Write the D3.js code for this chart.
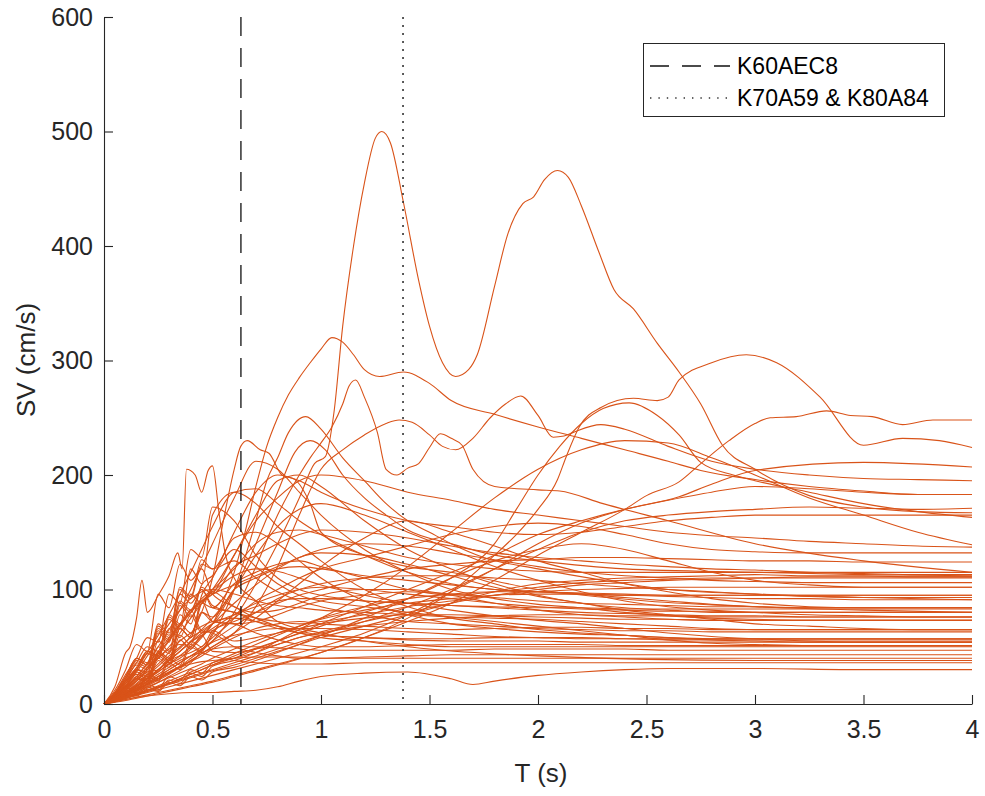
<!DOCTYPE html>
<html><head><meta charset="utf-8">
<script src="https://cdn.jsdelivr.net/npm/d3@7"></script>
<style>
html,body{margin:0;padding:0;background:#fff;}
svg{display:block;font-family:"Liberation Sans",Arial,Helvetica,sans-serif;}
</style></head>
<body>
<svg id="chart" width="985" height="796"></svg>
<script>
// ---------------- data ----------------
const xTicks = [0, 0.5, 1, 1.5, 2, 2.5, 3, 3.5, 4];
const yTicks = [0, 100, 200, 300, 400, 500, 600];
const xLabel = "T (s)";
const yLabel = "SV (cm/s)";
const markerNames = ["K60AEC8", "K70A59 & K80A84"];
const markerPeriods = [0.631, 1.378];

// shared period grid for the bundle of spectra
const periods = [0,0.05,0.1,0.15,0.2,0.25,0.3,0.35,0.4,0.45,0.5,0.6,0.7,0.8,0.9,1.0,1.2,1.4,1.6,1.8,2.0,2.2,2.4,2.6,2.8,3.0,3.25,3.5,3.75,4.0];
const gridSpectra = [
 [0,5,11,9,17,14,24,21,30,27,36,40,48,55,62,70,85,100,115,130,148,160,170,178,185,190,188,185,183,183],
 [0,4,8,7,13,11,19,16,24,21,28,32,38,45,52,60,72,85,100,118,135,150,160,165,168,170,172,171,170,171],
 [0,8,16,28,24,45,38,66,58,95,110,150,185,200,195,185,170,160,155,150,148,150,155,160,163,165,165,165,165,165],
 [0,4,9,8,15,12,21,18,27,24,33,38,45,55,65,75,95,120,150,180,205,222,230,228,215,200,180,165,150,139],
 [0,7,15,26,22,44,38,66,58,88,96,130,160,180,195,200,195,185,178,170,165,160,155,150,147,145,142,140,138,137],
 [0,6,12,10,24,20,36,30,52,46,62,75,90,100,110,118,128,138,148,155,158,155,148,140,135,133,132,132,132,132],
 [0,6,14,12,26,22,40,34,55,50,64,72,80,88,95,100,110,118,122,125,126,128,128,127,126,125,125,124,124,124],
 [0,8,20,30,28,50,44,78,70,102,96,120,130,140,148,152,150,145,138,132,128,125,122,120,118,117,115,114,113,113],
 [0,3,6,9,12,15,18,22,26,30,34,40,45,52,58,63,72,80,88,95,100,104,106,108,109,110,111,111,111,111],
 [0,6,14,22,20,42,36,66,58,88,84,105,115,122,125,120,110,100,95,98,102,106,108,109,110,110,110,110,110,110],
 [0,10,24,40,34,66,58,96,88,100,86,80,75,72,70,72,78,85,90,95,98,100,101,102,102,102,102,102,102,102],
 [0,7,15,24,20,40,34,60,52,80,76,100,110,118,120,118,112,108,104,100,98,97,96,95,95,95,95,95,95,95],
 [0,3,7,11,15,19,23,27,31,35,40,48,55,62,68,74,82,88,92,95,96,96,95,94,93,92,92,91,91,91],
 [0,8,18,30,26,55,46,86,76,90,72,70,72,78,85,90,95,98,96,93,90,88,87,86,85,85,84,84,84,84],
 [0,4,9,15,22,30,38,46,54,60,66,78,88,95,100,102,100,96,92,88,85,83,82,81,81,80,80,80,80,80],
 [0,7,14,22,18,38,32,56,48,60,46,45,48,52,58,62,68,72,75,77,78,78,77,77,76,76,76,76,76,76],
 [0,9,20,30,44,40,66,58,78,62,64,55,58,62,66,70,75,78,78,77,76,75,74,74,73,73,73,73,73,73],
 [0,3,7,12,17,22,27,32,37,42,48,58,66,70,72,70,68,66,65,66,67,67,66,66,65,65,65,65,65,65],
 [0,8,20,34,30,62,54,90,82,100,84,80,72,66,62,60,58,57,57,58,58,58,57,57,57,57,57,57,57,57],
 [0,4,10,18,26,35,45,55,62,68,72,75,72,68,64,60,58,56,55,55,55,54,54,54,54,54,54,54,54,54],
 [0,7,16,26,22,46,40,70,62,80,72,70,62,56,52,50,50,51,52,52,52,52,51,51,51,51,51,51,51,51],
 [0,3,8,14,20,26,32,38,42,45,48,50,50,49,48,47,47,47,47,48,48,48,48,47,47,47,47,47,47,47],
 [0,9,22,36,50,46,78,70,82,64,62,50,45,42,40,40,41,42,43,43,43,43,43,43,43,43,43,43,43,43],
 [0,4,9,14,19,24,28,32,35,37,38,40,41,41,41,40,40,40,40,40,40,40,40,40,40,40,40,40,40,40],
 [0,5,12,22,32,40,48,52,50,45,42,38,36,35,35,35,36,36,36,36,36,36,36,36,36,36,36,36,36,36],
 [0,8,20,32,46,42,76,68,118,105,165,185,175,155,140,125,100,85,75,70,65,62,60,58,56,55,54,54,54,54],
 [0,4,9,15,22,30,38,46,55,65,75,100,130,155,170,175,165,150,135,120,108,98,90,85,82,80,78,77,76,76],
 [0,3,7,12,17,22,28,33,38,44,50,62,75,90,105,120,145,160,150,138,125,115,105,98,92,88,85,84,84,84],
 [0,10,24,40,36,70,62,100,92,122,118,145,150,140,125,110,90,78,70,66,63,61,60,58,57,57,57,57,57,57],
 [0,3,6,9,12,15,18,21,24,27,30,36,42,48,54,60,75,92,110,125,135,140,135,125,115,108,104,102,102,102],
 [0,9,22,38,34,68,60,102,94,126,118,125,110,98,90,85,78,72,70,68,66,65,64,64,63,63,63,63,63,63],
 [0,5,12,20,30,40,50,62,75,88,100,130,165,195,200,190,160,135,118,105,95,88,84,82,80,80,80,80,80,80],
 [0,6,14,24,36,50,65,82,100,120,140,180,212,205,185,165,135,115,100,92,87,84,80,77,75,74,73,73,73,73],
 [0,7,18,30,45,60,78,96,115,135,155,185,188,175,160,148,130,115,105,100,98,96,95,95,95,95,95,95,95,95],
 [0,2,5,8,11,14,17,20,23,26,29,34,40,46,52,58,68,78,88,98,105,108,110,111,112,113,112,112,111,111],
 [0,12,30,52,46,96,84,122,108,118,96,85,75,68,62,58,55,52,50,50,50,50,50,50,50,50,50,50,50,50],
 [0,7,18,30,46,42,74,66,96,88,98,85,80,82,88,95,100,100,95,88,82,78,76,74,73,73,73,73,73,73],
 [0,4,10,17,25,33,42,50,58,64,70,78,85,90,92,92,90,88,86,84,82,80,79,78,77,77,76,76,76,76],
 [0,6,16,28,42,56,70,82,92,98,100,96,90,86,84,82,80,78,76,75,74,72,70,68,66,65,65,65,65,65],
 [0,3,8,13,18,24,30,36,42,48,54,60,64,66,66,66,65,63,61,59,58,57,57,56,56,56,56,56,56,56],
 [0,10,26,40,58,54,96,88,135,128,172,160,130,110,100,95,90,88,86,85,84,84,83,83,83,83,83,83,83,83],
 [0,4,11,20,30,42,55,68,80,92,100,118,140,150,152,148,138,128,122,118,116,115,115,115,115,115,115,115,115,115],
 [0,5,13,22,32,44,56,70,82,90,96,104,112,120,128,135,140,138,132,126,120,115,112,110,108,107,106,106,106,106],
 [0,3,7,12,18,24,30,36,42,48,55,68,80,92,100,105,110,112,112,110,108,105,102,100,98,96,94,93,93,93],
 [0,9,22,36,32,64,56,88,80,104,112,135,120,105,95,90,85,80,76,72,68,64,60,56,53,52,51,51,51,51],
 [0,4,10,16,23,30,38,46,54,62,70,88,104,118,128,132,130,122,112,102,94,88,82,78,74,70,68,66,65,65],
 [0,6,14,24,35,46,58,70,80,90,98,112,118,116,110,104,95,88,82,77,73,70,66,62,59,57,55,54,54,54],
 [0,2,5,8,12,16,20,24,28,32,36,44,52,60,68,75,85,92,96,98,98,96,93,90,87,85,84,84,84,84]
];

// individually traced spectra: [period, SV] pairs
const peakSpectrum = [[0,0],[0.05,6],[0.1,14],[0.15,20],[0.2,28],[0.25,30],[0.3,38],[0.35,42],[0.4,45],[0.45,50],[0.5,58],[0.6,75],[0.7,105],[0.8,140],[0.9,180],[0.97,210],[1.02,216],[1.06,255],[1.1,330],[1.15,400],[1.2,455],[1.25,494],[1.28,500],[1.32,490],[1.38,438],[1.45,370],[1.5,330],[1.56,298],[1.62,286],[1.68,292],[1.72,305],[1.8,365],[1.86,410],[1.93,437],[1.98,443],[2.03,458],[2.09,466],[2.14,460],[2.2,435],[2.28,395],[2.35,362],[2.44,345],[2.55,315],[2.65,290],[2.75,262],[2.85,226],[3.0,205],[3.25,182],[3.5,172],[3.75,168],[4.0,167]];
const secondSpectrum = [[0,0],[0.05,5],[0.1,10],[0.15,16],[0.2,22],[0.25,28],[0.3,35],[0.35,40],[0.4,48],[0.45,58],[0.5,70],[0.55,90],[0.6,115],[0.65,150],[0.7,190],[0.75,225],[0.8,250],[0.85,270],[0.9,285],[0.95,298],[1.0,310],[1.05,320],[1.1,316],[1.15,305],[1.2,292],[1.27,286],[1.38,290],[1.5,280],[1.6,265],[1.8,253],[2.0,242],[2.2,232],[2.4,222],[2.6,212],[2.75,204],[3.0,196],[3.25,190],[3.5,186],[3.75,183],[4.0,183]];
const sharpSpectrum = [[0,0],[0.05,4],[0.1,9],[0.15,13],[0.2,18],[0.25,22],[0.3,27],[0.35,33],[0.4,40],[0.5,55],[0.6,80],[0.7,120],[0.8,165],[0.9,200],[0.95,215],[1.0,228],[1.05,242],[1.1,262],[1.13,278],[1.16,283],[1.2,268],[1.26,237],[1.3,205],[1.35,200],[1.4,206],[1.45,210],[1.5,224],[1.55,236],[1.6,232],[1.65,226],[1.7,205],[1.8,190],[2.0,187],[2.1,186],[2.3,175],[2.6,160],[3.0,140],[3.5,125],[4.0,115]];
const latePeakSpectrum = [[0,0],[0.1,4],[0.2,8],[0.3,12],[0.4,16],[0.5,20],[0.6,25],[0.8,35],[1.0,45],[1.2,58],[1.4,75],[1.6,98],[1.8,130],[1.9,148],[2.0,170],[2.09,196],[2.13,216],[2.19,242],[2.29,259],[2.44,267],[2.55,265],[2.6,268],[2.65,283],[2.8,298],[2.96,305],[3.1,298],[3.3,268],[3.5,226],[3.68,232],[3.85,230],[4.0,224]];
const risingSpectrum = [[0,0],[0.1,3],[0.2,7],[0.3,11],[0.4,15],[0.5,19],[0.6,24],[0.8,34],[1.0,45],[1.2,58],[1.4,72],[1.6,88],[1.8,108],[2.0,130],[2.2,150],[2.4,170],[2.5,182],[2.65,194],[2.75,210],[2.88,230],[3.0,245],[3.07,250],[3.19,251],[3.33,256],[3.44,252],[3.54,251],[3.68,244],[3.82,248],[4.0,248]];
const humpSpectrum = [[0,0],[0.1,5],[0.2,11],[0.3,18],[0.4,26],[0.5,34],[0.6,42],[0.8,55],[1.0,68],[1.2,80],[1.4,92],[1.6,110],[1.8,140],[1.9,170],[2.0,200],[2.1,225],[2.2,245],[2.3,258],[2.42,263],[2.55,252],[2.65,235],[2.75,211],[2.9,200],[3.0,195],[3.25,185],[3.5,175],[3.75,168],[4.0,163]];
const doubleHumpSpectrum = [[0,0],[0.1,7],[0.2,16],[0.3,26],[0.4,38],[0.5,50],[0.6,62],[0.7,85],[0.8,120],[0.9,165],[1.0,205],[1.1,222],[1.2,235],[1.3,245],[1.36,248],[1.42,246],[1.5,235],[1.56,225],[1.62,222],[1.7,232],[1.78,250],[1.85,262],[1.92,269],[2.0,252],[2.07,233],[2.12,234],[2.16,237],[2.29,244],[2.4,240],[2.6,225],[2.8,212],[3.0,205],[3.25,200],[3.5,197],[3.75,196],[4.0,195]];
const earlySpectrum = [[0,0],[0.1,8],[0.2,20],[0.3,40],[0.4,60],[0.45,80],[0.5,110],[0.55,160],[0.6,205],[0.63,225],[0.66,230],[0.72,222],[0.76,219],[0.82,200],[0.88,196],[0.95,175],[1.0,150],[1.2,130],[1.4,120],[1.6,115],[2.0,100],[2.5,90],[3.0,85],[3.5,82],[4.0,80]];
const linearDropSpectrum = [[0,0],[0.1,6],[0.2,14],[0.3,24],[0.4,36],[0.5,60],[0.6,100],[0.7,160],[0.75,195],[0.8,215],[0.85,237],[0.93,251],[1.0,240],[1.1,215],[1.2,195],[1.3,175],[1.4,160],[1.5,150],[1.6,140],[1.75,128],[2.0,118],[2.3,108],[2.6,100],[3.0,96],[3.5,93],[4.0,91]];
const roundPeakSpectrum = [[0,0],[0.1,10],[0.2,22],[0.3,35],[0.4,50],[0.5,70],[0.6,100],[0.7,140],[0.8,185],[0.88,220],[0.95,230],[1.02,222],[1.1,200],[1.2,180],[1.3,165],[1.4,152],[1.6,140],[1.8,130],[2.0,125],[2.4,118],[3.0,115],[3.5,113],[4.0,112]];
const spikySpectrum = [[0,0],[0.05,15],[0.1,45],[0.12,50],[0.15,75],[0.175,108],[0.2,80],[0.25,95],[0.3,112],[0.34,132],[0.36,118],[0.38,205],[0.42,200],[0.45,185],[0.48,204],[0.5,208],[0.53,167],[0.56,130],[0.6,110],[0.7,90],[0.8,72],[1.0,62],[1.5,48],[2.0,42],[3.0,38],[4.0,38]];
const lateRiseSpectrum = [[0,0],[0.2,10],[0.4,20],[0.6,30],[0.8,40],[1.0,50],[1.2,62],[1.4,78],[1.6,98],[1.8,118],[2.0,140],[2.2,158],[2.4,170],[2.65,181],[2.8,192],[3.0,204],[3.5,211],[4.0,207]];
const lowestSpectrum = [[0,0],[0.1,4],[0.2,7],[0.3,9],[0.4,10],[0.5,10],[0.6,11],[0.7,12],[0.8,15],[0.9,20],[1.0,24],[1.2,27],[1.4,28],[1.6,22],[1.7,17],[1.8,20],[2.0,25],[2.2,28],[2.4,30],[2.6,31],[3.0,31],[3.5,30],[4.0,30]];

// ---------------- drawing ----------------
const svg = d3.select("#chart");
const x = d3.scaleLinear().domain([0, 4]).range([104, 972]);
const y = d3.scaleLinear().domain([0, 600]).range([704, 17]);
const lineColor = "#D95319";
const axisColor = "#262626";

const line = d3.line().x(d => x(d[0])).y(d => y(d[1])).curve(d3.curveMonotoneX);

const curves = gridSpectra.map(vals => vals.map((v, i) => [periods[i], v]))
  .concat([peakSpectrum, secondSpectrum, sharpSpectrum, latePeakSpectrum, risingSpectrum,
           humpSpectrum, doubleHumpSpectrum, earlySpectrum, linearDropSpectrum,
           roundPeakSpectrum, spikySpectrum, lateRiseSpectrum, lowestSpectrum]);

const plot = svg.append("g");
plot.selectAll("path.sv").data(curves).enter().append("path")
  .attr("class", "sv")
  .attr("d", line)
  .attr("fill", "none")
  .attr("stroke", lineColor)
  .attr("stroke-width", 1.1)
  .attr("stroke-linejoin", "round");

// marker lines
const markerDash = ["19,12", "2,6"];
const markerColor = ["#111", "#333"];
plot.selectAll("line.marker").data(markerPeriods).enter().append("line")
  .attr("x1", d => x(d)).attr("x2", d => x(d))
  .attr("y1", y(600)).attr("y2", y(0))
  .attr("stroke", (d, i) => markerColor[i])
  .attr("stroke-width", (d, i) => i === 0 ? 1.3 : 1.6)
  .attr("stroke-dasharray", (d, i) => markerDash[i]);

// axes
const xAxis = d3.axisBottom(x).tickValues(xTicks).tickSizeInner(-9).tickSizeOuter(0)
  .tickPadding(16).tickFormat(d3.format("~g"));
const yAxis = d3.axisLeft(y).tickValues(yTicks).tickSizeInner(-9).tickSizeOuter(0)
  .tickPadding(11);

const gx = svg.append("g").attr("transform", `translate(0,${y(0)})`).call(xAxis);
const gy = svg.append("g").attr("transform", `translate(${x(0)},0)`).call(yAxis);
[gx, gy].forEach(g => {
  g.select(".domain").attr("stroke", axisColor).attr("stroke-width", 1.1);
  g.selectAll(".tick line").attr("stroke", axisColor).attr("stroke-width", 1.1);
  g.selectAll(".tick text").attr("fill", axisColor).attr("font-size", 25)
    .attr("font-family", "'Liberation Sans', Arial, sans-serif");
});

svg.append("text").attr("x", 541).attr("y", 782).attr("text-anchor", "middle")
  .attr("font-size", 26).attr("fill", axisColor).text(xLabel);
svg.append("text").attr("transform", `translate(35,${360}) rotate(-90)`)
  .attr("text-anchor", "middle").attr("font-size", 26).attr("fill", axisColor).text(yLabel);

// legend
const lg = svg.append("g");
lg.append("rect").attr("x", 643.5).attr("y", 43.5).attr("width", 301).attr("height", 73)
  .attr("fill", "#fff").attr("stroke", axisColor).attr("stroke-width", 1);
markerNames.forEach((name, i) => {
  const yy = 66 + i * 32;
  lg.append("line").attr("x1", 650).attr("x2", 730).attr("y1", yy).attr("y2", yy)
    .attr("stroke", markerColor[i]).attr("stroke-width", i === 0 ? 1.3 : 1.4)
    .attr("stroke-dasharray", i === 0 ? "19,13" : "1.4,7");
  lg.append("text").attr("x", 737).attr("y", yy + 8).attr("font-size", 23)
    .attr("fill", "#000").text(name);
});
</script>
</body></html>
